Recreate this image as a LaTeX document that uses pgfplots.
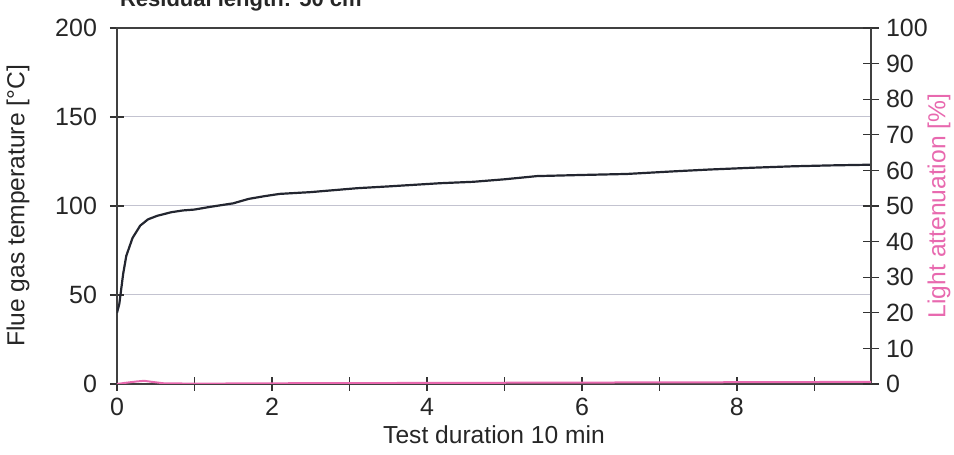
\documentclass[border=0pt]{standalone}
\usepackage{fontspec}
\setmainfont{Liberation Sans}
\usepackage{pgfplots}
\pgfplotsset{compat=1.18}
\definecolor{pinkl}{RGB}{232,105,175}
\definecolor{gridc}{RGB}{195,195,208}
\definecolor{curvec}{RGB}{35,38,48}
\begin{document}
\begin{tikzpicture}
\begin{axis}[
  scale only axis, width=377pt, height=178pt,
  xmin=0, xmax=9.73, ymin=0, ymax=200,
  xtick={0,2,4,6,8}, minor xtick={1,3,5,7,9},
  ytick={0,50,100,150,200},
  xtick pos=bottom, ytick pos=left,
  tick align=center,
  major tick length=7pt, minor tick length=7pt,
  every tick/.style={black!80, line width=0.6pt},
  ymajorgrids, major grid style={gridc, line width=0.5pt},
  axis line style={black!75, line width=0.8pt},
  tick label style={font=\fontsize{12.5}{14}\selectfont, text=black!85},
  /pgf/number format/assume math mode=true,
  yticklabel style={xshift=-3pt},
  xticklabel style={yshift=0pt},
  xlabel={Test duration 10 min},
  ylabel={Flue gas temperature [°C]},
  label style={font=\fontsize{12.3}{14}\selectfont, text=black!85},
  xlabel style={yshift=2pt},
  ylabel style={yshift=6pt},
]
\addplot[curvec, line width=1.1pt] coordinates {
(0,40) (0.03,45) (0.08,62) (0.12,72) (0.2,82) (0.3,89) (0.4,92.5)
(0.52,94.5) (0.7,96.5) (0.85,97.5) (1.0,98) (1.2,99.5) (1.5,101.5)
(1.7,104) (1.9,105.5) (2.1,106.8) (2.5,107.8) (3.1,110) (3.5,111)
(4.17,112.8) (4.6,113.6) (5.0,115) (5.42,116.8) (5.97,117.4)
(6.58,118) (7.2,119.5) (7.65,120.5) (8.2,121.5) (8.72,122.3)
(9.2,122.8) (9.73,123.2)
};
\end{axis}
\begin{axis}[
  scale only axis, width=377pt, height=178pt,
  xmin=0, xmax=9.73, ymin=0, ymax=100,
  axis x line=none, axis y line*=right,
  ytick={0,10,...,100},
  tick align=center, major tick length=8pt,
  every tick/.style={black!80, line width=0.6pt},
  axis line style={black!75, line width=0.8pt},
  tick label style={font=\fontsize{12.5}{14}\selectfont, text=black!85},
  /pgf/number format/assume math mode=true,
  ylabel={Light attenuation [\%]},
  ylabel style={font=\fontsize{12.3}{14}\selectfont, text=pinkl, yshift=7pt},
]
\addplot[pinkl, line width=1pt] coordinates {
(0,0) (0.1,0.3) (0.25,0.7) (0.35,0.9) (0.45,0.6) (0.6,0.2) (1,0.1)
(2,0.2) (4,0.3) (6,0.4) (8,0.5) (9.73,0.6)
};
\end{axis}
\node[overlay, anchor=base west, font=\bfseries\fontsize{11}{13}\selectfont, text=black!85]
  at ([xshift=-2pt, yshift=10.5pt]current axis.north west) {Residual length: 50 cm};
\pgfresetboundingbox
\path ([xshift=-58.5pt,yshift=-35.5pt]current axis.south west) rectangle ([xshift=41.5pt,yshift=14pt]current axis.north east);
\end{tikzpicture}
\end{document}
